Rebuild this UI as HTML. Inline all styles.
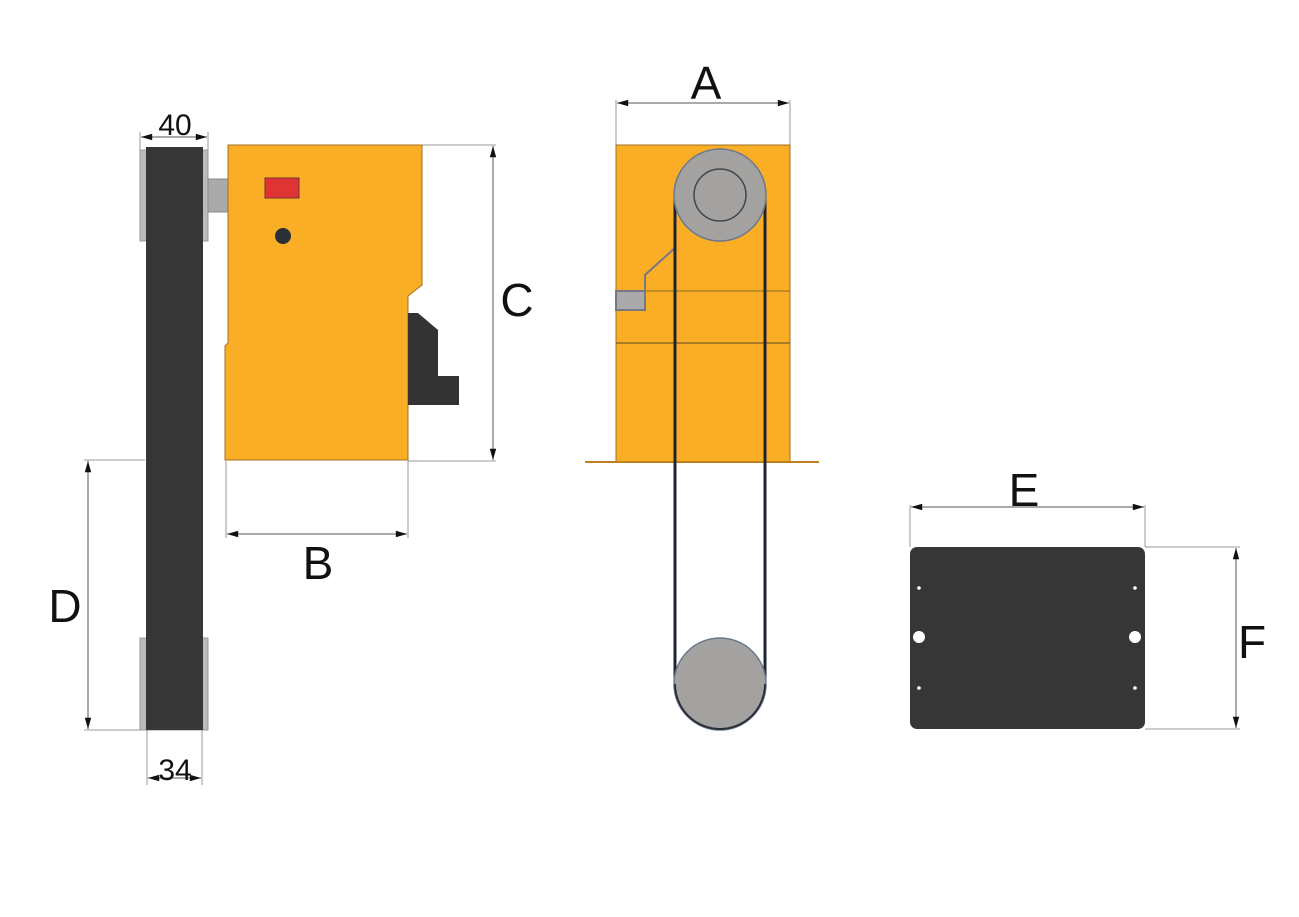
<!DOCTYPE html>
<html><head><meta charset="utf-8"><style>
html,body{margin:0;padding:0;background:#fff;}
svg{display:block;}
text{font-family:"Liberation Sans","DejaVu Sans",sans-serif;fill:#111;}
</style></head><body>
<svg width="1299" height="917" viewBox="0 0 1299 917" xmlns="http://www.w3.org/2000/svg">
<defs>
<marker id="ar" viewBox="0 0 14 10" refX="14" refY="5" markerWidth="14" markerHeight="8" orient="auto-start-reverse" markerUnits="userSpaceOnUse">
<path d="M0,1 L14,5 L0,9 z" fill="#111"/></marker>
</defs>
<g stroke="#999" stroke-width="1" fill="none">
<line x1="140" y1="132" x2="140" y2="150"/><line x1="208" y1="132" x2="208" y2="150"/>
<line x1="147" y1="730" x2="147" y2="785"/><line x1="202" y1="730" x2="202" y2="785"/>
<line x1="422" y1="145" x2="496" y2="145"/><line x1="408" y1="461" x2="496" y2="461"/>
<line x1="226" y1="461" x2="226" y2="538"/><line x1="408" y1="461" x2="408" y2="538"/>
<line x1="84" y1="460" x2="145" y2="460"/><line x1="84" y1="730" x2="145" y2="730"/>
<line x1="616" y1="100" x2="616" y2="145"/><line x1="790" y1="100" x2="790" y2="145"/>
<line x1="910" y1="505" x2="910" y2="547"/><line x1="1145" y1="505" x2="1145" y2="547"/>
<line x1="1145" y1="547" x2="1240" y2="547"/><line x1="1145" y1="729" x2="1240" y2="729"/>
</g>
<g stroke="#555" stroke-width="1" marker-start="url(#ar)" marker-end="url(#ar)">
<line x1="141" y1="137" x2="207" y2="137"/>
<line x1="148" y1="778" x2="201" y2="778"/>
<line x1="493" y1="146" x2="493" y2="460"/>
<line x1="227" y1="534" x2="407" y2="534"/>
<line x1="88" y1="461" x2="88" y2="729"/>
<line x1="617" y1="103" x2="789" y2="103"/>
<line x1="911" y1="507" x2="1144" y2="507"/>
<line x1="1236" y1="548" x2="1236" y2="728"/>
</g>
<text x="175" y="135" font-size="30" text-anchor="middle">40</text>
<text x="175" y="780" font-size="30" text-anchor="middle">34</text>
<text x="517" y="316" font-size="46" text-anchor="middle">C</text>
<text x="318" y="579" font-size="46" text-anchor="middle">B</text>
<text x="65" y="622" font-size="46" text-anchor="middle">D</text>
<text x="706" y="99" font-size="46" text-anchor="middle">A</text>
<text x="1024" y="506" font-size="46" text-anchor="middle">E</text>
<text x="1252" y="658" font-size="46" text-anchor="middle">F</text>

<rect x="140" y="150" width="68" height="91" fill="#bbb" stroke="#999"/>
<rect x="140" y="638" width="68" height="92" fill="#bbb" stroke="#999"/>
<rect x="146" y="147" width="57" height="583" fill="#363636"/>
<rect x="208" y="179" width="20" height="33" fill="#aaa" stroke="#888"/>
<path d="M228,145 L422,145 L422,285 L408,296 L408,460 L225,460 L225,346 L228,343 Z" fill="#faae26" stroke="#a07020" stroke-width="1"/>
<rect x="265" y="178" width="34" height="20" fill="#e03434" stroke="#733"/>
<circle cx="283" cy="236" r="8" fill="#2c2f38"/>
<path d="M408,313 L418,313 L438,330 L438,405 L408,405 Z" fill="#333"/>
<rect x="438" y="376" width="21" height="29" fill="#333"/>

<rect x="616" y="145" width="174" height="317" fill="#faae26" stroke="#a07020"/>
<line x1="616" y1="291" x2="790" y2="291" stroke="#8a6a20"/>
<line x1="616" y1="343" x2="790" y2="343" stroke="#5a4a20"/>
<line x1="585" y1="462" x2="819" y2="462" stroke="#c08020" stroke-width="2"/>
<path d="M676,247 L645,275 L645,310 L616,310 L616,291 L645,291" fill="none" stroke="#778" stroke-width="2"/>
<rect x="617" y="292" width="27" height="17" fill="#aaa"/>
<line x1="675" y1="195" x2="675" y2="684" stroke="#1e2430" stroke-width="3"/>
<line x1="765" y1="195" x2="765" y2="684" stroke="#1e2430" stroke-width="3"/>
<circle cx="720" cy="195" r="46" fill="#a4a2a0" stroke="#6a7890" stroke-width="1.5"/>
<circle cx="720" cy="195" r="26" fill="#a4a2a0" stroke="#444" stroke-width="1.5"/>
<circle cx="720" cy="684" r="46" fill="#a4a2a0" stroke="#6a7890" stroke-width="1.5"/>
<path d="M675,684 A45,45 0 0 0 765,684" fill="none" stroke="#2a2f38" stroke-width="2"/>

<rect x="910" y="547" width="235" height="182" rx="7" fill="#363636"/>
<circle cx="919" cy="637" r="6" fill="#fff"/><circle cx="1135" cy="637" r="6" fill="#fff"/>
<circle cx="919" cy="588" r="1.8" fill="#fff"/><circle cx="1135" cy="588" r="1.8" fill="#fff"/>
<circle cx="919" cy="688" r="1.8" fill="#fff"/><circle cx="1135" cy="688" r="1.8" fill="#fff"/>
</svg>
</body></html>
